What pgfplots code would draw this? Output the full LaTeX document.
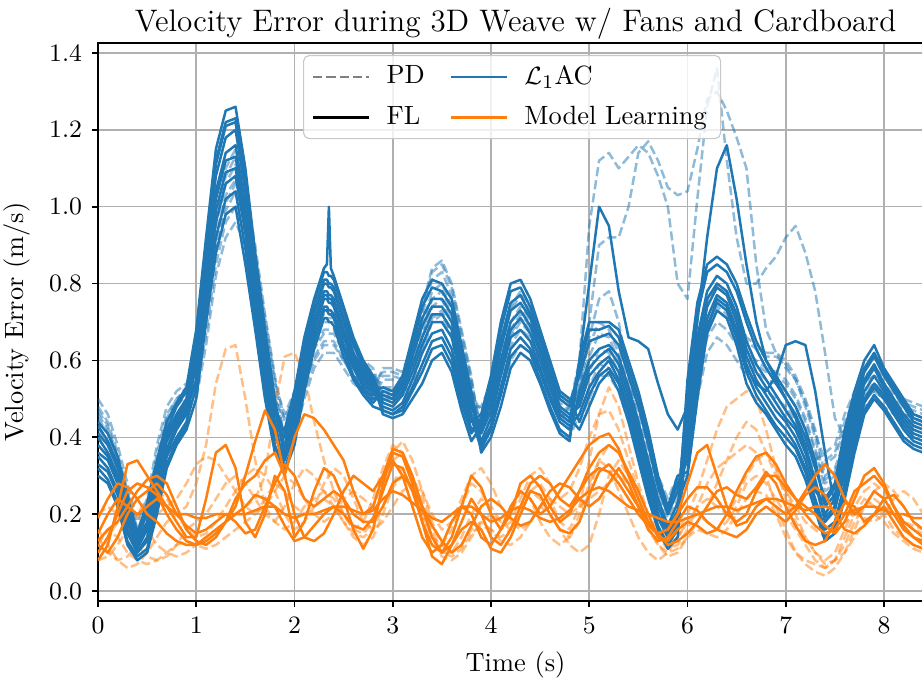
\documentclass[border=0pt]{standalone}
\usepackage{pgfplots}
\pgfplotsset{compat=1.18}
\usepackage{pgfplotstable}
\definecolor{cb}{HTML}{1F77B4}
\definecolor{co}{HTML}{FF7F0E}
\definecolor{gridc}{HTML}{B0B0B0}

% L1AC with FL (solid blue)
\pgfplotstableread{
t s1 s2 s3 s4 s5 s6 s7 s8 s9 s10
0.0 .44 .41 .38 .35 .32 .40 .43 .36 .33 .30
0.1 .41 .38 .35 .32 .29 .36 .39 .34 .31 .28
0.2 .35 .32 .29 .26 .23 .30 .33 .28 .25 .22
0.3 .25 .22 .19 .16 .13 .20 .23 .18 .15 .12
0.4 .15 .14 .12 .10 .09 .13 .14 .11 .10 .08
0.5 .23 .20 .17 .14 .11 .18 .21 .16 .13 .10
0.6 .34 .31 .28 .25 .22 .30 .33 .26 .23 .20
0.7 .44 .41 .39 .36 .33 .40 .42 .37 .35 .32
0.8 .49 .46 .44 .42 .39 .45 .48 .43 .40 .38
0.9 .53 .50 .48 .46 .43 .49 .52 .47 .44 .42
1.0 .68 .65 .66 .64 .61 .59 .57 .55 .53 .50
1.1 .92 .89 .90 .87 .83 .81 .79 .77 .73 .70
1.2 1.15 1.11 1.12 1.08 1.04 1.02 .99 .96 .92 .88
1.3 1.25 1.21 1.22 1.18 1.14 1.12 1.09 1.06 1.02 .98
1.4 1.26 1.22 1.23 1.20 1.16 1.13 1.10 1.08 1.04 1.00
1.5 1.10 1.06 1.08 1.04 1.00 .98 .95 .93 .89 .85
1.6 .88 .85 .86 .83 .80 .78 .76 .74 .71 .68
1.7 .68 .65 .66 .64 .61 .59 .57 .55 .53 .50
1.8 .50 .48 .49 .47 .44 .43 .42 .40 .38 .36
1.9 .34 .41 .37 .36 .32 .40 .42 .35 .31 .38
2.0 .41 .50 .46 .44 .39 .49 .52 .42 .38 .47
2.1 .55 .64 .60 .58 .53 .63 .66 .56 .52 .61
2.2 .66 .75 .70 .69 .65 .73 .76 .68 .63 .72
2.3 .74 .83 .78 .77 .73 .81 .84 .76 .71 .80
2.33 .74 .83 .78 .77 .73 .81 .85 .76 .71 .80
2.35 .73 .82 .77 .76 .72 .80 1.00 .75 .70 .79
2.37 .73 .82 .77 .76 .72 .80 .84 .75 .70 .79
2.4 .72 .81 .76 .75 .71 .79 .82 .74 .69 .78
2.5 .64 .73 .68 .67 .63 .71 .74 .66 .61 .70
2.6 .58 .65 .61 .60 .56 .64 .66 .59 .55 .62
2.7 .53 .59 .56 .55 .52 .58 .60 .54 .51 .57
2.8 .50 .55 .52 .52 .49 .54 .56 .51 .48 .53
2.9 .51 .47 .53 .48 .52 .46 .49 .51 .47 .50
3.0 .50 .46 .52 .47 .51 .45 .48 .50 .46 .49
3.1 .53 .47 .56 .49 .55 .46 .51 .54 .48 .52
3.2 .61 .52 .66 .55 .64 .50 .57 .62 .53 .59
3.3 .69 .57 .76 .62 .74 .54 .64 .71 .59 .66
3.4 .74 .63 .81 .67 .79 .60 .70 .76 .65 .72
3.5 .74 .64 .80 .68 .78 .62 .70 .76 .66 .72
3.6 .70 .59 .76 .63 .74 .57 .66 .72 .61 .68
3.7 .58 .49 .64 .53 .62 .47 .55 .60 .51 .56
3.8 .48 .41 .52 .44 .51 .39 .45 .49 .42 .46
3.9 .41 .45 .38 .46 .36 .43 .37 .42 .44 .39
4.0 .47 .54 .43 .56 .40 .51 .42 .49 .52 .45
4.1 .58 .68 .53 .70 .48 .63 .51 .60 .65 .56
4.2 .68 .78 .63 .80 .58 .73 .61 .70 .75 .66
4.3 .71 .79 .66 .81 .62 .75 .64 .73 .77 .68
4.4 .67 .74 .63 .76 .60 .71 .62 .69 .72 .65
4.5 .60 .66 .57 .68 .54 .63 .55 .62 .65 .58
4.6 .53 .59 .50 .60 .47 .56 .48 .54 .57 .51
4.7 .46 .51 .44 .52 .41 .48 .42 .47 .50 .45
4.8 .44 .49 .42 .50 .39 .46 .40 .45 .48 .43
4.9 .60 .56 .50 .44 .60 .48 .52 .42 .58 .46
5.0 .80 .65 .58 .51 .70 .56 .60 .48 .68 .53
5.1 1.00 .66 .61 .56 .70 .59 .63 .54 .68 .57
5.2 .95 .67 .63 .58 .70 .61 .64 .57 .69 .60
5.3 .78 .64 .59 .54 .68 .57 .61 .52 .66 .55
5.4 .66 .56 .51 .46 .60 .49 .53 .44 .58 .47
5.5 .65 .48 .42 .36 .52 .40 .44 .34 .50 .38
5.6 .63 .38 .32 .26 .42 .30 .34 .24 .40 .28
5.7 .54 .27 .22 .17 .30 .20 .24 .16 .28 .19
5.8 .46 .20 .16 .12 .22 .15 .17 .11 .21 .14
5.9 .42 .26 .21 .16 .30 .19 .23 .14 .28 .17
6.0 .48 .37 .52 .43 .31 .55 .30 .46 .34 .40
6.1 .70 .57 .72 .63 .51 .75 .50 .66 .54 .60
6.2 .92 .71 .83 .76 .67 .85 .68 .78 .69 .74
6.3 1.10 .77 .85 .80 .73 .87 .76 .82 .75 .79
6.4 1.16 .75 .83 .78 .71 .85 .74 .80 .73 .77
6.5 1.02 .68 .78 .72 .64 .80 .66 .74 .66 .70
6.6 .85 .59 .70 .63 .54 .72 .58 .65 .57 .61
6.7 .70 .53 .63 .57 .49 .65 .54 .59 .51 .55
6.8 .60 .49 .58 .53 .46 .60 .52 .55 .47 .51
6.9 .55 .45 .54 .49 .42 .56 .56 .51 .43 .47
7.0 .50 .42 .50 .45 .38 .52 .64 .47 .40 .44
7.1 .45 .38 .46 .42 .35 .48 .65 .43 .37 .40
7.2 .38 .32 .40 .36 .29 .42 .64 .37 .31 .34
7.3 .28 .24 .32 .28 .21 .34 .52 .29 .23 .26
7.4 .18 .16 .24 .20 .13 .22 .36 .19 .14 .23
7.5 .21 .18 .28 .24 .15 .25 .22 .22 .17 .27
7.6 .32 .28 .42 .36 .24 .38 .30 .34 .26 .40
7.7 .43 .39 .52 .47 .36 .48 .41 .45 .38 .50
7.8 .52 .49 .60 .55 .46 .57 .50 .54 .47 .58
7.9 .56 .53 .64 .59 .50 .61 .54 .58 .51 .62
8.0 .52 .50 .58 .54 .47 .56 .51 .53 .48 .57
8.1 .48 .46 .54 .50 .43 .52 .47 .49 .44 .53
8.2 .44 .42 .50 .46 .39 .48 .43 .45 .40 .49
8.3 .41 .39 .46 .43 .37 .44 .40 .42 .38 .45
8.4 .40 .38 .45 .42 .36 .43 .39 .41 .37 .44
}\tbs

% L1AC with PD (dashed blue)
\pgfplotstableread{
t d1 d2 d3 d4 d5 d6 d7 d8
0.0 .48 .43 .50 .45 .40 .47 .42 .46
0.1 .44 .39 .46 .41 .36 .43 .38 .42
0.2 .36 .31 .38 .33 .28 .35 .30 .34
0.3 .26 .21 .28 .23 .18 .25 .20 .24
0.4 .16 .12 .18 .14 .10 .16 .12 .15
0.5 .22 .17 .24 .19 .14 .21 .16 .20
0.6 .36 .30 .38 .32 .26 .34 .28 .33
0.7 .46 .41 .48 .43 .38 .45 .40 .44
0.8 .50 .46 .52 .48 .44 .50 .46 .49
0.9 .53 .50 .54 .51 .48 .52 .49 .52
1.0 .56 .60 .52 .58 .54 .50 .59 .55
1.1 .74 .80 .67 .77 .70 .64 .78 .72
1.2 .92 .98 .85 .95 .88 .82 .96 .90
1.3 1.03 1.10 .96 1.06 .99 .92 1.08 1.01
1.4 1.07 1.15 1.00 1.11 1.04 .96 1.13 1.06
1.5 .99 1.05 .93 1.02 .96 .90 1.04 .98
1.6 .84 .90 .77 .87 .80 .74 .88 .82
1.7 .66 .72 .61 .69 .64 .58 .71 .65
1.8 .51 .56 .46 .54 .49 .44 .55 .50
1.9 .41 .44 .36 .46 .39 .42 .38 .45
2.0 .46 .50 .40 .52 .44 .47 .42 .51
2.1 .56 .60 .50 .62 .54 .57 .52 .61
2.2 .63 .66 .58 .68 .61 .64 .60 .67
2.3 .67 .70 .62 .72 .65 .68 .64 .71
2.4 .67 .70 .62 .72 .65 .68 .64 .71
2.5 .62 .64 .58 .66 .60 .63 .60 .65
2.6 .58 .60 .54 .62 .56 .59 .56 .61
2.7 .56 .58 .52 .60 .54 .57 .54 .59
2.8 .54 .56 .50 .58 .52 .55 .52 .57
2.9 .57 .53 .55 .51 .58 .52 .56 .50
3.0 .57 .53 .55 .51 .58 .52 .56 .50
3.1 .56 .54 .54 .52 .57 .53 .55 .51
3.2 .63 .58 .60 .55 .64 .57 .62 .54
3.3 .73 .67 .69 .63 .74 .66 .72 .62
3.4 .83 .76 .78 .71 .84 .74 .81 .70
3.5 .85 .78 .80 .73 .86 .76 .83 .72
3.6 .79 .72 .74 .67 .80 .70 .77 .66
3.7 .67 .60 .62 .55 .68 .58 .65 .54
3.8 .55 .49 .51 .45 .56 .48 .54 .44
3.9 .41 .45 .47 .43 .38 .48 .42 .44
4.0 .46 .50 .53 .48 .42 .54 .47 .49
4.1 .56 .62 .65 .59 .52 .66 .58 .60
4.2 .64 .70 .73 .67 .60 .74 .66 .68
4.3 .68 .74 .77 .71 .64 .78 .70 .72
4.4 .66 .70 .73 .68 .62 .74 .67 .69
4.5 .59 .63 .65 .61 .56 .66 .60 .62
4.6 .51 .55 .57 .53 .48 .58 .52 .54
4.7 .45 .49 .51 .47 .42 .52 .46 .48
4.8 .48 .47 .49 .45 .40 .50 .44 .46
4.9 .60 .52 .52 .54 .46 .50 .56 .44
5.0 .95 .70 .66 .61 .53 .57 .64 .50
5.1 1.12 .90 .76 .67 .59 .63 .70 .56
5.2 1.14 .92 .78 .66 .58 .62 .68 .56
5.3 1.10 .92 .70 .60 .54 .57 .62 .52
5.4 1.13 1.00 .56 .52 .46 .49 .54 .44
5.5 1.16 1.14 .44 .44 .38 .41 .46 .36
5.6 1.14 1.17 .34 .36 .30 .33 .38 .28
5.7 1.08 1.12 .26 .28 .22 .25 .30 .20
5.8 1.00 1.05 .20 .22 .16 .19 .24 .14
5.9 .80 1.03 .26 .28 .20 .24 .30 .18
6.0 .76 1.04 .46 .35 .48 .41 .30 .39
6.1 1.02 1.15 .64 .55 .66 .60 .50 .58
6.2 1.26 1.28 .75 .66 .76 .70 .62 .69
6.3 1.36 1.30 .79 .70 .80 .74 .66 .73
6.4 1.12 1.25 .77 .68 .78 .72 .64 .71
6.5 .92 1.18 .71 .64 .72 .67 .60 .66
6.6 .80 1.10 .65 .59 .66 .62 .56 .61
6.7 .80 .85 .63 .57 .64 .60 .54 .59
6.8 .84 .68 .61 .55 .62 .58 .52 .57
6.9 .87 .62 .61 .54 .62 .57 .50 .56
7.0 .92 .58 .59 .52 .60 .55 .48 .54
7.1 .95 .55 .55 .48 .56 .51 .44 .50
7.2 .88 .48 .49 .42 .50 .45 .38 .44
7.3 .78 .40 .41 .34 .42 .37 .30 .36
7.4 .62 .28 .34 .36 .30 .26 .33 .29
7.5 .45 .30 .36 .38 .32 .28 .35 .31
7.6 .40 .36 .44 .46 .39 .34 .42 .38
7.7 .47 .44 .50 .52 .46 .42 .49 .45
7.8 .52 .50 .54 .56 .51 .48 .54 .50
7.9 .54 .52 .56 .58 .53 .50 .56 .52
8.0 .52 .50 .54 .56 .51 .48 .54 .50
8.1 .49 .47 .51 .52 .48 .46 .50 .48
8.2 .47 .45 .49 .50 .46 .44 .48 .46
8.3 .46 .44 .48 .49 .45 .43 .47 .45
8.4 .45 .43 .47 .48 .44 .42 .46 .44
}\tbd

% Model Learning with FL (solid orange)
\pgfplotstableread{
t o1 o2 o3 o4 o5 o6
0.0 .10 .08 .15 .13 .19 .12
0.1 .14 .12 .20 .16 .24 .10
0.2 .20 .22 .24 .18 .28 .14
0.3 .26 .33 .22 .22 .27 .20
0.4 .28 .34 .20 .26 .24 .24
0.5 .27 .30 .22 .29 .20 .26
0.6 .25 .26 .24 .30 .18 .28
0.7 .20 .22 .22 .28 .15 .25
0.8 .16 .18 .20 .22 .13 .20
0.9 .13 .14 .20 .16 .12 .17
1.0 .12 .14 .19 .13 .12 .15
1.1 .14 .24 .19 .12 .13 .16
1.2 .16 .36 .20 .14 .15 .18
1.3 .18 .38 .20 .18 .18 .20
1.4 .22 .32 .20 .24 .20 .18
1.5 .30 .18 .20 .28 .22 .15
1.6 .39 .14 .21 .30 .25 .16
1.7 .47 .20 .22 .34 .24 .22
1.8 .42 .30 .22 .36 .22 .28
1.9 .30 .26 .20 .30 .17 .33
2.0 .40 .14 .19 .20 .13 .30
2.1 .46 .18 .20 .14 .14 .24
2.2 .45 .26 .20 .13 .17 .22
2.3 .42 .32 .21 .15 .20 .24
2.4 .38 .30 .22 .20 .22 .26
2.5 .34 .24 .22 .26 .20 .24
2.6 .26 .16 .21 .30 .17 .20
2.7 .20 .11 .20 .28 .16 .18
2.8 .22 .16 .21 .26 .19 .18
2.9 .30 .28 .24 .30 .26 .22
3.0 .34 .36 .26 .37 .33 .28
3.1 .30 .35 .25 .36 .32 .30
3.2 .22 .28 .23 .30 .26 .27
3.3 .14 .18 .21 .22 .18 .22
3.4 .10 .09 .19 .14 .12 .17
3.5 .12 .07 .18 .10 .10 .13
3.6 .18 .12 .20 .14 .12 .10
3.7 .22 .18 .22 .22 .16 .12
3.8 .20 .24 .22 .30 .18 .17
3.9 .14 .20 .20 .27 .16 .22
4.0 .12 .14 .18 .20 .11 .24
4.1 .16 .12 .19 .16 .10 .22
4.2 .22 .16 .21 .20 .14 .19
4.3 .26 .22 .22 .28 .20 .17
4.4 .24 .28 .21 .30 .26 .18
4.5 .20 .30 .19 .27 .25 .22
4.6 .22 .28 .18 .22 .20 .26
4.7 .26 .24 .19 .18 .16 .28
4.8 .30 .22 .21 .20 .15 .27
4.9 .34 .26 .24 .26 .18 .24
5.0 .38 .32 .26 .30 .25 .22
5.1 .40 .36 .27 .32 .31 .24
5.2 .41 .38 .26 .31 .33 .28
5.3 .37 .36 .24 .28 .30 .32
5.4 .30 .31 .22 .24 .26 .28
5.5 .24 .26 .21 .20 .22 .22
5.6 .18 .20 .20 .17 .18 .16
5.7 .15 .14 .19 .15 .15 .13
5.8 .16 .13 .18 .16 .12 .14
5.9 .20 .16 .18 .20 .13 .18
6.0 .28 .18 .19 .24 .15 .22
6.1 .36 .17 .20 .27 .18 .21
6.2 .38 .15 .21 .27 .22 .18
6.3 .30 .16 .22 .24 .26 .16
6.4 .22 .20 .22 .20 .27 .15
6.5 .17 .26 .21 .18 .25 .14
6.6 .18 .31 .22 .20 .24 .16
6.7 .22 .35 .23 .26 .27 .20
6.8 .24 .36 .24 .30 .31 .22
6.9 .22 .33 .24 .30 .28 .20
7.0 .20 .28 .23 .27 .22 .18
7.1 .22 .24 .22 .24 .17 .21
7.2 .26 .22 .21 .20 .13 .25
7.3 .30 .20 .22 .17 .12 .27
7.4 .33 .17 .22 .15 .13 .25
7.5 .30 .15 .21 .16 .18 .20
7.6 .24 .18 .20 .20 .23 .16
7.7 .20 .24 .21 .26 .22 .15
7.8 .22 .30 .22 .28 .18 .17
7.9 .26 .32 .22 .30 .20 .20
8.0 .24 .28 .21 .27 .22 .24
8.1 .20 .22 .20 .22 .18 .25
8.2 .16 .17 .20 .18 .14 .22
8.3 .14 .14 .19 .16 .12 .18
8.4 .13 .12 .19 .14 .11 .16
}\tbo

% Model Learning with PD (dashed orange)
\pgfplotstableread{
t e1 e2 e3 e4 e5 e6
0.0 .16 .10 .14 .20 .08 .12
0.1 .12 .14 .10 .22 .09 .16
0.2 .08 .18 .08 .20 .12 .14
0.3 .06 .22 .09 .16 .16 .10
0.4 .07 .20 .12 .12 .20 .08
0.5 .10 .16 .16 .09 .24 .07
0.6 .14 .12 .20 .08 .26 .08
0.7 .18 .10 .22 .09 .24 .10
0.8 .20 .09 .24 .12 .20 .12
0.9 .22 .10 .28 .16 .16 .13
1.0 .28 .12 .33 .18 .14 .12
1.1 .38 .14 .35 .20 .15 .11
1.2 .54 .16 .34 .24 .18 .12
1.3 .63 .18 .30 .28 .22 .14
1.4 .64 .20 .26 .30 .26 .16
1.5 .50 .22 .22 .28 .30 .18
1.6 .34 .24 .20 .24 .32 .20
1.7 .22 .30 .22 .20 .30 .24
1.8 .18 .48 .26 .18 .26 .28
1.9 .16 .61 .30 .22 .20 .26
2.0 .18 .62 .28 .28 .16 .22
2.1 .22 .56 .24 .32 .18 .20
2.2 .24 .44 .20 .30 .22 .22
2.3 .26 .34 .18 .26 .28 .24
2.4 .24 .26 .20 .22 .32 .22
2.5 .20 .20 .24 .18 .30 .18
2.6 .16 .16 .26 .14 .24 .15
2.7 .18 .15 .24 .12 .18 .14
2.8 .24 .18 .22 .14 .16 .16
2.9 .32 .26 .28 .20 .18 .22
3.0 .38 .34 .36 .27 .22 .28
3.1 .36 .36 .39 .30 .26 .32
3.2 .28 .30 .34 .26 .28 .30
3.3 .20 .22 .26 .20 .26 .24
3.4 .14 .14 .18 .14 .20 .16
3.5 .12 .10 .12 .09 .16 .10
3.6 .16 .10 .10 .08 .18 .09
3.7 .22 .14 .12 .10 .24 .11
3.8 .28 .20 .16 .14 .30 .15
3.9 .26 .24 .18 .18 .32 .17
4.0 .20 .22 .16 .20 .28 .16
4.1 .16 .18 .14 .18 .22 .13
4.2 .18 .16 .16 .20 .18 .12
4.3 .24 .20 .22 .26 .16 .14
4.4 .30 .26 .26 .24 .18 .18
4.5 .32 .28 .24 .18 .22 .22
4.6 .28 .24 .20 .14 .24 .20
4.7 .24 .18 .16 .12 .22 .16
4.8 .26 .16 .14 .14 .20 .12
4.9 .32 .22 .18 .20 .22 .10
5.0 .40 .34 .26 .28 .24 .12
5.1 .46 .46 .34 .34 .26 .20
5.2 .47 .53 .38 .32 .28 .30
5.3 .42 .48 .36 .26 .30 .34
5.4 .34 .38 .30 .20 .28 .30
5.5 .26 .28 .24 .14 .22 .24
5.6 .20 .20 .18 .10 .16 .18
5.7 .16 .14 .14 .08 .12 .12
5.8 .14 .11 .12 .10 .10 .09
5.9 .16 .12 .14 .14 .11 .10
6.0 .20 .16 .18 .18 .14 .14
6.1 .26 .22 .22 .20 .18 .16
6.2 .34 .28 .24 .18 .22 .15
6.3 .42 .32 .22 .16 .28 .14
6.4 .48 .34 .20 .18 .34 .16
6.5 .50 .36 .24 .22 .40 .20
6.6 .52 .38 .30 .28 .44 .24
6.7 .50 .36 .34 .30 .42 .26
6.8 .42 .30 .36 .28 .36 .25
6.9 .32 .22 .32 .24 .30 .20
7.0 .24 .16 .26 .20 .26 .14
7.1 .18 .10 .20 .16 .22 .10
7.2 .14 .07 .14 .12 .18 .08
7.3 .10 .05 .10 .08 .16 .07
7.4 .08 .04 .07 .06 .14 .06
7.5 .10 .06 .08 .08 .15 .08
7.6 .16 .10 .12 .14 .18 .10
7.7 .22 .16 .18 .20 .20 .14
7.8 .26 .22 .22 .24 .19 .18
7.9 .28 .26 .24 .22 .18 .20
8.0 .26 .28 .22 .20 .20 .18
8.1 .22 .26 .20 .16 .24 .15
8.2 .18 .22 .18 .14 .26 .13
8.3 .16 .18 .17 .12 .24 .11
8.4 .15 .16 .16 .11 .20 .10
}\tbe

\begin{document}
\begin{tikzpicture}
\path[use as bounding box] (-35.28pt,-29.16pt) rectangle (296.64pt,216.38pt);
\clip (-35.28pt,-29.16pt) rectangle (296.64pt,216.38pt);
\begin{axis}[
  scale only axis, width=300.65pt, height=200.9pt,
  xmin=0, xmax=8.5, ymin=-0.026, ymax=1.426,
  xtick={0,1,2,3,4,5,6,7,8},
  ytick={0,0.2,0.4,0.6,0.8,1.0,1.2,1.4},
  yticklabel style={/pgf/number format/.cd,fixed,fixed zerofill,precision=1},
  tick pos=left, tick align=outside,
  major tick length=2.2pt,
  tick style={black, line width=0.6pt},
  axis line style={line width=0.6pt},
  grid=major,
  major grid style={color=gridc, line width=0.55pt},
  ticklabel style={font=\fontsize{9.5}{11}\selectfont},
  label style={font=\fontsize{9.5}{11}\selectfont},
  every axis title shift=0pt,
  title style={font=\fontsize{11.2}{13}\selectfont, at={(0.5,1)}, anchor=base, yshift=4.3pt},
  title={Velocity Error during 3D Weave w/ Fans and Cardboard},
  xlabel={Time (s)},
  ylabel={Velocity Error (m/s)},
  every axis plot/.append style={line width=0.9pt, line join=round},
  legend columns=2,
  legend cell align=left,
  legend image code/.code={\draw[#1] (0pt,0pt) -- (20pt,0pt);},
  legend style={at={(0.2455,0.9785)}, anchor=north west,
    draw=gridc!70, rounded corners=2pt, fill=white, fill opacity=0.8, text opacity=1,
    font=\fontsize{9.5}{11}\selectfont, inner xsep=3pt, inner ysep=1.5pt,
    row sep=2.5pt,
    /tikz/every odd column/.append style={column sep=4pt},
    /tikz/every even column/.append style={column sep=7pt}},
]
\addlegendimage{gray, line width=0.9pt, dash pattern=on 3.3pt off 1.45pt}
\addlegendentry{PD}
\addlegendimage{cb, line width=0.9pt}
\addlegendentry{$\mathcal{L}_1$AC}
\addlegendimage{black, line width=0.9pt}
\addlegendentry{FL}
\addlegendimage{co, line width=0.9pt}
\addlegendentry{Model Learning}

\pgfplotsinvokeforeach{1,...,8}{
  \addplot[forget plot, cb, draw opacity=0.5, dash pattern=on 3.3pt off 1.45pt] table[x=t, y=d#1] {\tbd};
}
\pgfplotsinvokeforeach{1,...,6}{
  \addplot[forget plot, co, draw opacity=0.5, dash pattern=on 3.3pt off 1.45pt] table[x=t, y=e#1] {\tbe};
}
\pgfplotsinvokeforeach{1,...,10}{
  \addplot[forget plot, cb] table[x=t, y=s#1] {\tbs};
}
\pgfplotsinvokeforeach{1,...,6}{
  \addplot[forget plot, co] table[x=t, y=o#1] {\tbo};
}
\end{axis}
\end{tikzpicture}
\end{document}
